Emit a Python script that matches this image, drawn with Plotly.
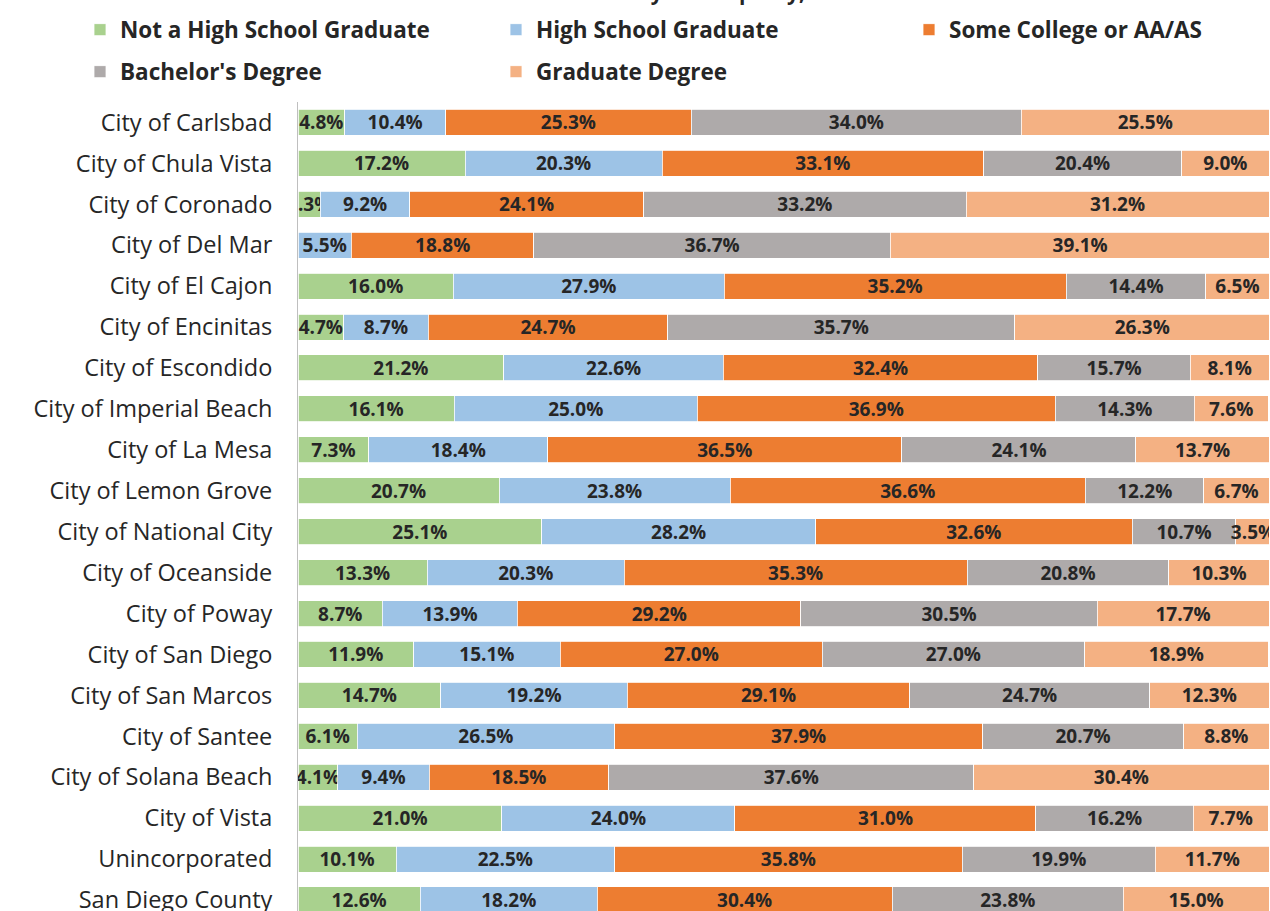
import plotly.graph_objects as go

categories = [
    "City of Carlsbad", "City of Chula Vista", "City of Coronado", "City of Del Mar",
    "City of El Cajon", "City of Encinitas", "City of Escondido", "City of Imperial Beach",
    "City of La Mesa", "City of Lemon Grove", "City of National City", "City of Oceanside",
    "City of Poway", "City of San Diego", "City of San Marcos", "City of Santee",
    "City of Solana Beach", "City of Vista", "Unincorporated", "San Diego County",
]

not_hs = [4.8, 17.2, 2.3, 0.0, 16.0, 4.7, 21.2, 16.1, 7.3, 20.7, 25.1, 13.3, 8.7, 11.9, 14.7, 6.1, 4.1, 21.0, 10.1, 12.6]
hs_grad = [10.4, 20.3, 9.2, 5.5, 27.9, 8.7, 22.6, 25.0, 18.4, 23.8, 28.2, 20.3, 13.9, 15.1, 19.2, 26.5, 9.4, 24.0, 22.5, 18.2]
some_college = [25.3, 33.1, 24.1, 18.8, 35.2, 24.7, 32.4, 36.9, 36.5, 36.6, 32.6, 35.3, 29.2, 27.0, 29.1, 37.9, 18.5, 31.0, 35.8, 30.4]
bachelors = [34.0, 20.4, 33.2, 36.7, 14.4, 35.7, 15.7, 14.3, 24.1, 12.2, 10.7, 20.8, 30.5, 27.0, 24.7, 20.7, 37.6, 16.2, 19.9, 23.8]
graduate = [25.5, 9.0, 31.2, 39.1, 6.5, 26.3, 8.1, 7.6, 13.7, 6.7, 3.5, 10.3, 17.7, 18.9, 12.3, 8.8, 30.4, 7.7, 11.7, 15.0]

series_names = ["Not a High School Graduate", "High School Graduate", "Some College or AA/AS",
                "Bachelor's Degree", "Graduate Degree"]
series_values = [not_hs, hs_grad, some_college, bachelors, graduate]
series_colors = ["#A9D18E", "#9DC3E6", "#ED7D31", "#AEAAAA", "#F4B183"]
legend_ids = ["legend", "legend2", "legend3", "legend4", "legend5"]
# legend item anchor positions (container pixels): left x, centre y
legend_x = [80, 496, 909, 80, 496]
legend_y = [30, 30, 30, 72, 72]

title_text = "Educational Attainment by Municipality, 2019"

FONT = "Open Sans"
TXT = "#262626"
W, H = 1270, 911

fig = go.Figure()
for name, vals, col, lg in zip(series_names, series_values, series_colors, legend_ids):
    fig.add_trace(go.Bar(
        y=categories, x=vals, name=name, orientation="h",
        marker=dict(color=col, line=dict(color="white", width=0.8)),
        text=[f"{v:.1f}%" if v > 0 else "" for v in vals],
        textposition="inside", insidetextanchor="middle", textangle=0,
        textfont=dict(family=FONT, size=19, color=TXT, weight="bold"),
        legend=lg, showlegend=True, hoverinfo="skip",
    ))

legend_layout = {}
for lg, lx, ly in zip(legend_ids, legend_x, legend_y):
    legend_layout[lg] = dict(
        orientation="h", xref="container", yref="container",
        x=lx / W, y=1 - ly / H, xanchor="left", yanchor="middle",
        font=dict(family=FONT, size=22.5, color=TXT, weight="bold"),
        itemwidth=30, bgcolor="rgba(0,0,0,0)",
    )

fig.update_layout(
    width=W, height=H,
    showlegend=True,
    barmode="stack", bargap=0.365,
    plot_bgcolor="white", paper_bgcolor="white",
    margin=dict(l=298, r=1, t=102, b=0, autoexpand=False),
    font=dict(family=FONT, color=TXT),
    uniformtext=dict(mode="show", minsize=19),
    title=dict(text=title_text, x=0.488, xref="container", xanchor="center",
               y=1.0, yref="container", yanchor="bottom",
               font=dict(family=FONT, size=21, color=TXT, weight="bold")),
    xaxis=dict(range=[0, 100], showticklabels=False, showgrid=False, zeroline=False,
               showline=False, ticks="", automargin=False),
    yaxis=dict(range=[19.27, -0.5], showgrid=False, zeroline=False, showline=True,
               linecolor="#BFBFBF", linewidth=1, ticks="", ticklabelstandoff=20,
               automargin=False,
               tickfont=dict(family=FONT, size=23.5, color=TXT)),
    **legend_layout,
)

fig.write_html("out.html", config={"displayModeBar": False},
               post_script="document.body.style.margin='0';document.body.style.overflow='hidden';")
